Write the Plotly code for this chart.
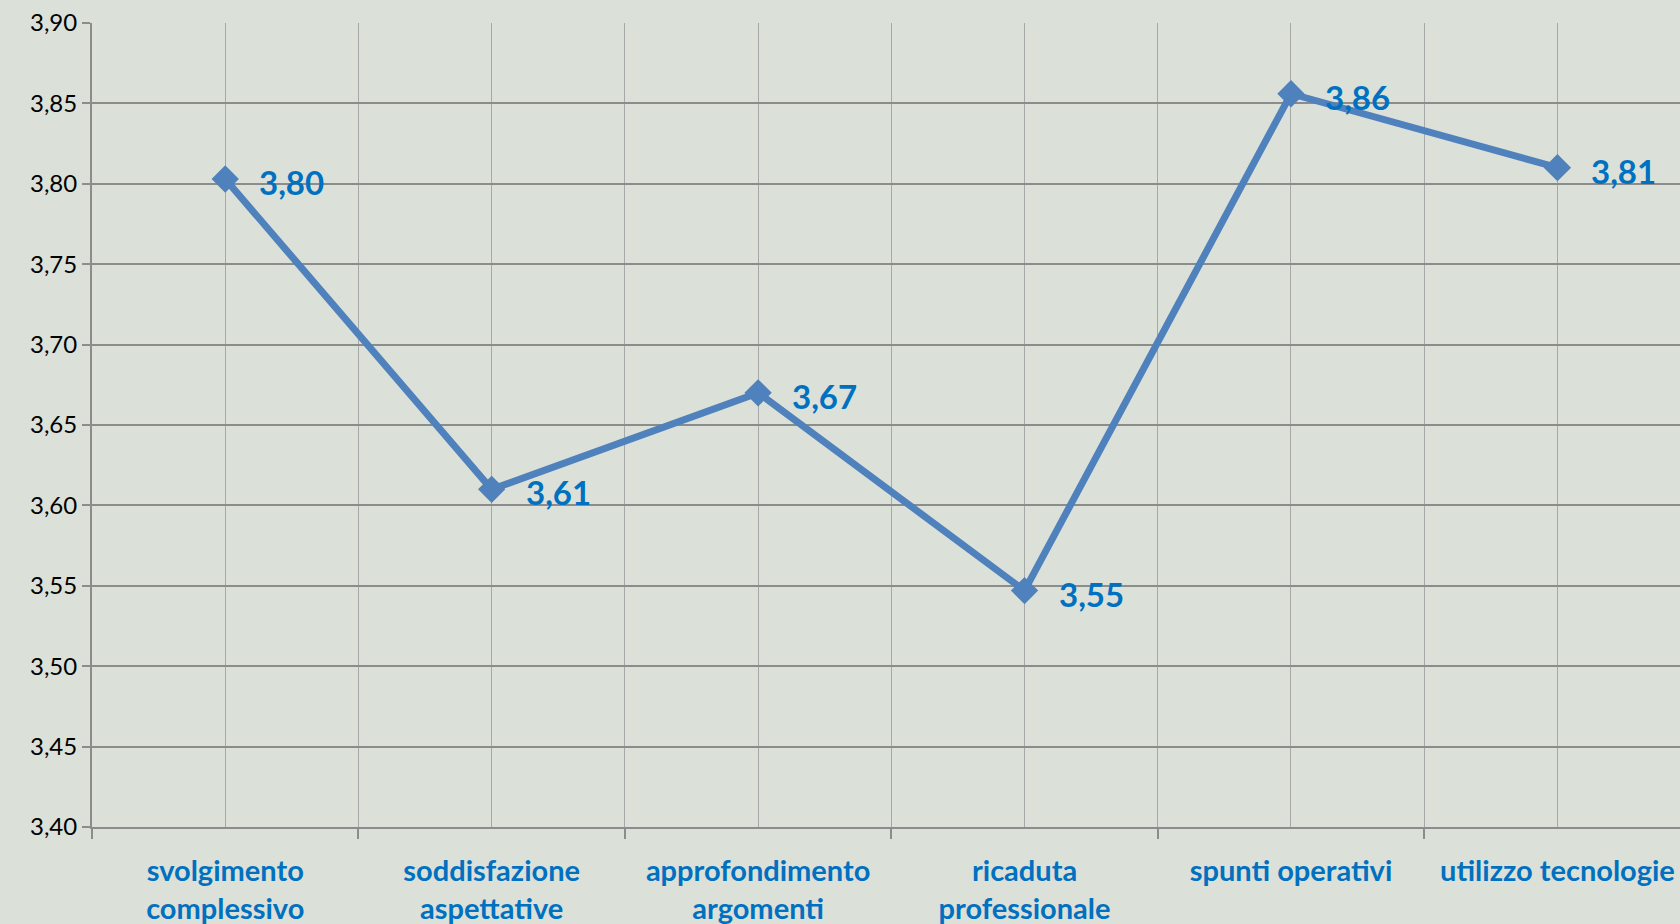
import plotly.graph_objects as go

categories = [
    "svolgimento<br>complessivo",
    "soddisfazione<br>aspettative",
    "approfondimento<br>argomenti",
    "ricaduta<br>professionale",
    "spunti operativi",
    "utilizzo tecnologie",
]
scores = [3.803, 3.610, 3.670, 3.547, 3.856, 3.810]
y_ticks = [3.40, 3.45, 3.50, 3.55, 3.60, 3.65, 3.70, 3.75, 3.80, 3.85, 3.90]

x_pos = list(range(len(categories)))
bounds = [i - 0.5 for i in range(len(categories) + 1)]
labels = [f"{v:.2f}".replace(".", ",") for v in scores]

BG = "#dbe0d8"
BLUE_TXT = "#0070c0"
FONT = "Lato, Open Sans, sans-serif"

fig = go.Figure()
fig.add_trace(go.Scatter(
    x=x_pos,
    y=scores,
    mode="lines+markers",
    line=dict(color="#4f81bd", width=7),
    marker=dict(symbol="diamond", size=21, color="#4f81bd"),
    hoverinfo="skip",
))

# value labels right of each marker, nudged a little below centre like the original
for xi, v, lab in zip(x_pos, scores, labels):
    fig.add_annotation(
        x=xi, y=v, text=f"<b>{lab}</b>",
        showarrow=False, xanchor="left", yanchor="middle",
        xshift=32, yshift=-3,
        font=dict(family=FONT, size=33, color=BLUE_TXT),
    )

fig.update_layout(
    width=1680,
    height=924,
    margin=dict(l=92, r=0, t=23, b=97),
    paper_bgcolor=BG,
    plot_bgcolor=BG,
    showlegend=False,
    separators=",.",
    xaxis=dict(
        range=[-0.5, 5.46],
        tickmode="array",
        tickvals=x_pos,
        ticktext=categories,
        ticks="",
        ticklabelstandoff=17,
        showgrid=True,
        gridcolor="#a8a8a8",
        gridwidth=1,
        zeroline=False,
        showline=True,
        linecolor="#8c8c8c",
        linewidth=2,
        tickfont=dict(family=FONT, size=29, color=BLUE_TXT, weight="bold"),
        minor=dict(
            tickmode="array",
            tickvals=bounds,
            ticks="outside",
            ticklen=10,
            tickcolor="#8c8c8c",
            tickwidth=2,
            showgrid=True,
            gridcolor="#a8a8a8",
            gridwidth=1,
        ),
    ),
    yaxis=dict(
        range=[3.40, 3.90],
        tickmode="array",
        tickvals=y_ticks,
        tickformat=".2f",
        ticks="outside",
        ticklen=8,
        tickcolor="#8c8c8c",
        tickwidth=2,
        showgrid=True,
        gridcolor="#8c8c8c",
        gridwidth=2,
        zeroline=False,
        showline=True,
        linecolor="#8c8c8c",
        linewidth=2,
        tickfont=dict(family=FONT, size=24, color="#000000"),
    ),
)

fig.write_html(
    "out.html",
    config={"displayModeBar": False},
    post_script="document.body.style.margin='0';",
)
